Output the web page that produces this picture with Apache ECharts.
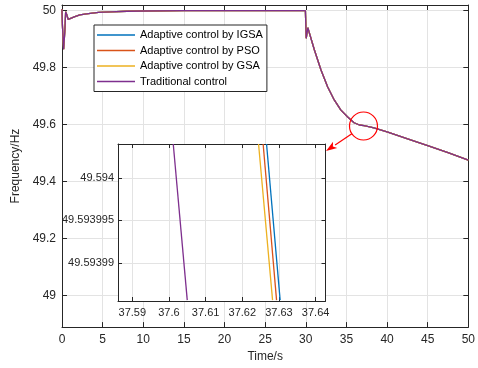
<!DOCTYPE html>
<html>
<head>
<meta charset="utf-8">
<script src="https://cdn.jsdelivr.net/npm/echarts@6/dist/echarts.min.js"></script>
<style>html,body{margin:0;padding:0;background:#fff;}#c{width:478px;height:368px;}</style>
</head>
<body>
<div id="c"></div>
<script>
// ---- data ----
var seriesNames = ['Adaptive control by IGSA', 'Adaptive control by PSO', 'Adaptive control by GSA', 'Traditional control'];
var seriesColors = ['#0072BD', '#D95319', '#EDB120', '#7E2F8E'];

var timeMain = [0, 0.05, 0.2, 0.35, 0.45, 0.6, 0.75, 1.0, 1.5, 2.2, 3, 4.5, 6, 8, 10, 15, 20, 29.95, 30.0, 30.05, 30.25, 30.35, 30.45, 31.06, 31.87, 32.68, 33.5, 34.3, 35.12, 35.94, 36.6, 37.16, 37.6, 38.38, 40, 42.44, 45, 47.5, 50];
var freqIGSA = [50.005, 49.95, 49.865, 49.93, 49.996, 49.985, 49.97, 49.972, 49.978, 49.985, 49.989, 49.994, 49.996, 49.998, 49.999, 50.0, 50.0, 50.0, 50.0, 49.903, 49.94, 49.935, 49.921, 49.862, 49.792, 49.733, 49.687, 49.652, 49.628, 49.607, 49.599, 49.597, 49.594, 49.589, 49.575, 49.551, 49.527, 49.502, 49.476];
var freqPSO  = freqIGSA.slice();
var freqGSA  = freqIGSA.slice();
var freqTrad = freqIGSA.slice();

// zoomed inset (two end points of each visible segment: [time, frequency])
var insetIGSA = [[37.62662, 49.594004], [37.63033, 49.5939856]];
var insetPSO  = [[37.62569, 49.594004], [37.62935, 49.5939856]];
var insetGSA  = [[37.62444, 49.594004], [37.62826, 49.5939856]];
var insetTrad = [[37.60117, 49.594004], [37.60499, 49.5939856]];

var mainYTicks = [49, 49.2, 49.4, 49.6, 49.8, 50];
var insetXTicks = [37.59, 37.6, 37.61, 37.62, 37.63, 37.64];
var insetYTicks = [49.59399, 49.593995, 49.594];

// ---- chart ----
var TXT = '#262626', GRIDC = '#e3e3e3', FONT = 'Liberation Sans, Arial, sans-serif';
function zip(a, b) { return a.map(function (v, i) { return [v, b[i]]; }); }
function fmt(d) { return function (v) { return String(parseFloat(Number(v).toFixed(d))); }; }

var chart = echarts.init(document.getElementById('c'), null, { renderer: 'canvas' });

function axisBase(extra) {
  var o = {
    axisLine: { show: true, onZero: false, lineStyle: { color: TXT, width: 1 } },
    axisTick: { show: true, inside: true, length: 5, lineStyle: { color: TXT, width: 1 } },
    axisLabel: { color: TXT, fontFamily: FONT, fontSize: 12 },
    splitLine: { show: false }
  };
  for (var k in extra) {
    if (o[k] && typeof o[k] === 'object' && !Array.isArray(o[k])) {
      for (var j in extra[k]) o[k][j] = extra[k][j];
    } else o[k] = extra[k];
  }
  return o;
}

var mainData = [freqIGSA, freqPSO, freqGSA, freqTrad];
var insetData = [insetIGSA, insetPSO, insetGSA, insetTrad];

var series = [];
for (var i = 0; i < 4; i++) {
  series.push({
    name: seriesNames[i], type: 'line', xAxisIndex: 0, yAxisIndex: 0,
    data: zip(timeMain, mainData[i]), showSymbol: false, symbol: 'none',
    lineStyle: { width: 1.3, color: seriesColors[i] }, itemStyle: { color: seriesColors[i] },
    animation: false, z: 2
  });
}
for (var i = 0; i < 4; i++) {
  series.push({
    name: 'inset ' + seriesNames[i], type: 'line', xAxisIndex: 2, yAxisIndex: 2,
    data: insetData[i], showSymbol: false, symbol: 'none', clip: true,
    lineStyle: { width: 1.3, color: seriesColors[i] }, itemStyle: { color: seriesColors[i] },
    animation: false, z: 6
  });
}

var insetXMin = 37.5861, insetXMax = 37.6427, insetYMin = 49.5939855, insetYMax = 49.594004;

chart.setOption({
  animation: false,
  backgroundColor: '#fff',
  textStyle: { fontFamily: FONT },
  grid: [
    { left: 62, right: 6, top: 5, bottom: 39.5, containLabel: false },
    { left: 118, right: 152.5, top: 144, bottom: 67, show: true, backgroundColor: '#fff', borderWidth: 0, z: 4 }
  ],
  legend: {
    data: seriesNames, orient: 'vertical', left: 94, top: 25,
    icon: 'rect', itemWidth: 38, itemHeight: 1.5, itemGap: 3.5, padding: [4, 4, 4, 3],
    backgroundColor: '#fff', borderColor: TXT, borderWidth: 1,
    textStyle: { color: '#000', fontFamily: FONT, fontSize: 11, lineHeight: 12 },
    selectedMode: false, z: 8
  },
  xAxis: [
    axisBase({ gridIndex: 0, type: 'value', position: 'bottom', min: 0, max: 50, interval: 5,
      name: 'Time/s', nameLocation: 'middle', nameGap: 23, nameTextStyle: { color: TXT, fontFamily: FONT, fontSize: 12 },
      axisLabel: { margin: 7, formatter: fmt(0) },
      splitLine: { show: true, lineStyle: { color: GRIDC, width: 1 } } }),
    axisBase({ gridIndex: 0, type: 'value', position: 'top', min: 0, max: 50, interval: 5,
      axisLabel: { show: false } }),
    axisBase({ gridIndex: 1, type: 'value', position: 'bottom', min: insetXMin, max: insetXMax, z: 5,
      axisTick: { length: 4, customValues: insetXTicks },
      axisLabel: { fontSize: 11, margin: 6, customValues: insetXTicks, formatter: fmt(2) },
      splitLine: { show: true, lineStyle: { color: GRIDC, width: 1 } } }),
    axisBase({ gridIndex: 1, type: 'value', position: 'top', min: insetXMin, max: insetXMax, z: 5,
      axisTick: { length: 4, customValues: insetXTicks },
      axisLabel: { show: false, customValues: insetXTicks } })
  ],
  yAxis: [
    axisBase({ gridIndex: 0, type: 'value', position: 'left', min: 48.89, max: 50.02,
      name: 'Frequency/Hz', nameLocation: 'middle', nameGap: 36, nameTextStyle: { color: TXT, fontFamily: FONT, fontSize: 12 },
      axisTick: { customValues: mainYTicks },
      axisLabel: { margin: 6, customValues: mainYTicks, formatter: fmt(2) },
      splitLine: { show: true, lineStyle: { color: GRIDC, width: 1 } } }),
    axisBase({ gridIndex: 0, type: 'value', position: 'right', min: 48.89, max: 50.02,
      axisTick: { customValues: mainYTicks },
      axisLabel: { show: false, customValues: mainYTicks } }),
    axisBase({ gridIndex: 1, type: 'value', position: 'left', min: insetYMin, max: insetYMax, z: 5,
      axisTick: { length: 4, customValues: insetYTicks },
      axisLabel: { fontSize: 11, margin: 4, customValues: insetYTicks, formatter: fmt(6) },
      splitLine: { show: true, lineStyle: { color: GRIDC, width: 1 } } }),
    axisBase({ gridIndex: 1, type: 'value', position: 'right', min: insetYMin, max: insetYMax, z: 5,
      axisTick: { length: 4, customValues: insetYTicks },
      axisLabel: { show: false, customValues: insetYTicks } })
  ],
  series: series
});

// annotation: red circle on the main curve and arrow to the inset
var c = chart.convertToPixel({ gridIndex: 0 }, [37.1, 49.5955]);
var corner = chart.convertToPixel({ gridIndex: 1 }, [insetXMax, insetYMax]);
var r = 14;
var tip = [corner[0] + 0.5, corner[1] + 7];
var dx = tip[0] - c[0], dy = tip[1] - c[1], L = Math.sqrt(dx * dx + dy * dy);
var ux = dx / L, uy = dy / L;
var start = [c[0] + ux * r, c[1] + uy * r];
var hl = 11, hw = 3.8;
var base = [tip[0] - ux * hl, tip[1] - uy * hl];
var nx = -uy, ny = ux;
chart.setOption({
  graphic: [
    { type: 'circle', shape: { cx: c[0], cy: c[1], r: r }, style: { fill: 'none', stroke: '#ff0000', lineWidth: 1.2 }, z: 20, silent: true },
    { type: 'line', shape: { x1: start[0], y1: start[1], x2: base[0], y2: base[1] }, style: { stroke: '#ff0000', lineWidth: 1.2 }, z: 20, silent: true },
    { type: 'polygon', shape: { points: [tip, [base[0] + nx * hw, base[1] + ny * hw], [tip[0] - ux * hl * 0.75, tip[1] - uy * hl * 0.75], [base[0] - nx * hw, base[1] - ny * hw]] }, style: { fill: '#ff0000' }, z: 20, silent: true }
  ]
});
</script>
</body>
</html>
